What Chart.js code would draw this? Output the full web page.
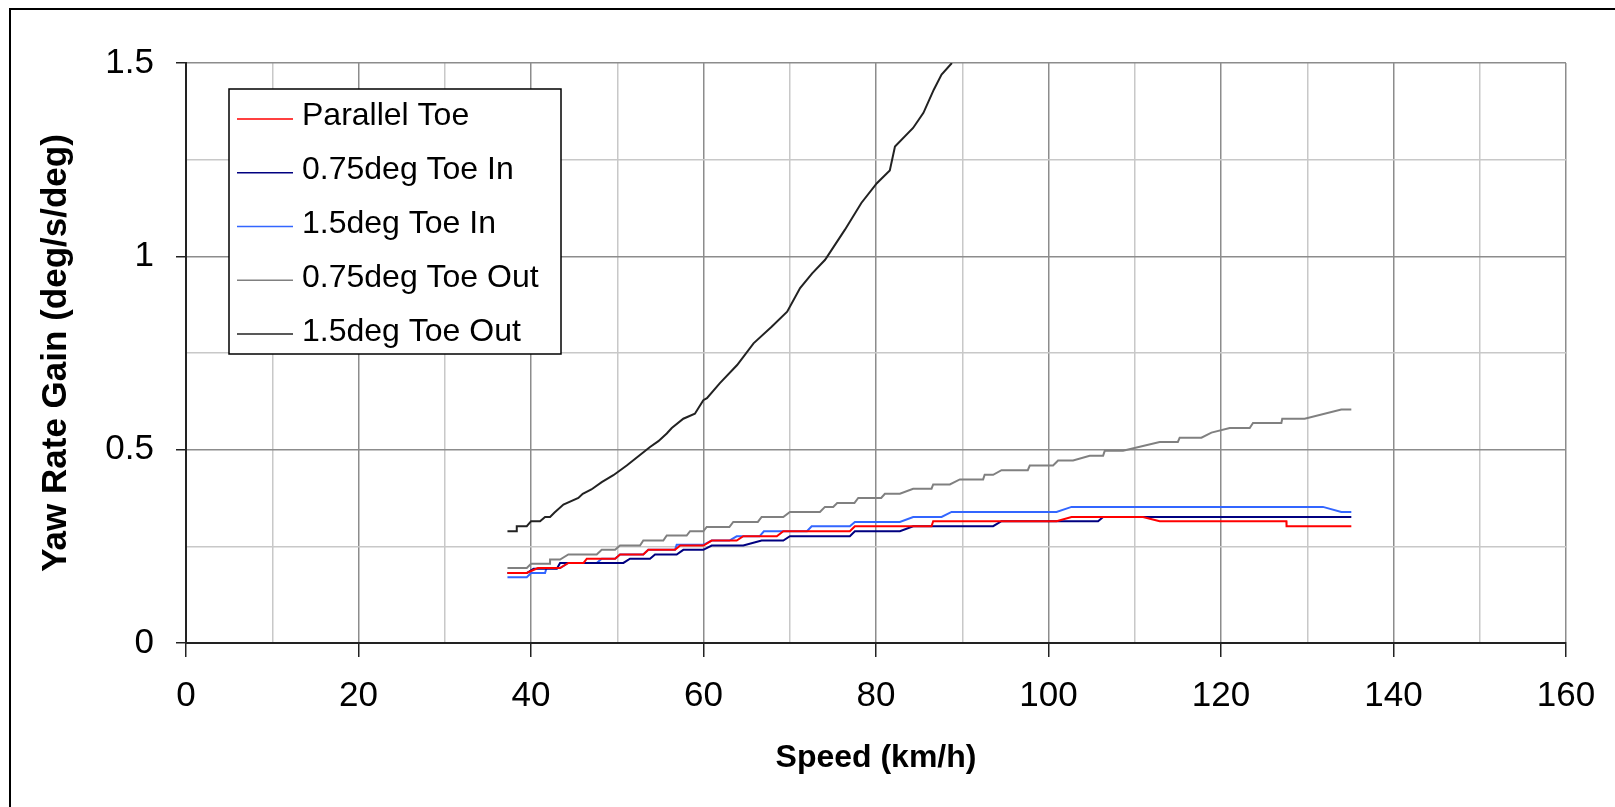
<!DOCTYPE html>
<html>
<head>
<title>Yaw Rate Gain vs Speed</title>
<script src="https://cdn.jsdelivr.net/npm/chart.js"></script>
<style>
  body { margin: 0; background: #fff; }
</style>
</head>
<body>
<canvas id="myChart" width="1615" height="807"></canvas>
<script>
// series data (speed km/h, yaw rate gain deg/s/deg)
const parallelToeX = [37.27,39.51,40.8,43.37,44.33,46.1,46.47,49.75,50.32,53.02,53.6,56.7,57.3,60.0,60.95,63.85,64.61,68.5,69.25,76.97,77.55,86.44,86.63,100.93,102.67,110.96,112.89,127.58,127.6,135.11];
const parallelToeY = [0.181,0.181,0.194,0.194,0.207,0.207,0.218,0.218,0.229,0.229,0.241,0.241,0.252,0.252,0.265,0.265,0.276,0.276,0.289,0.289,0.302,0.302,0.315,0.315,0.326,0.326,0.315,0.315,0.302,0.302];

const toeIn075X = [37.27,39.51,40.3,43.0,43.37,50.71,51.48,53.8,54.38,56.89,57.66,59.98,60.95,64.61,66.74,69.25,70.02,76.97,77.55,82.77,84.31,93.58,94.55,105.75,106.33,135.11];
const toeIn075Y = [0.181,0.181,0.192,0.192,0.207,0.207,0.218,0.218,0.229,0.229,0.241,0.241,0.252,0.252,0.265,0.265,0.276,0.276,0.289,0.289,0.302,0.302,0.315,0.315,0.326,0.326];

const toeIn15X = [37.27,39.51,40.01,41.63,41.8,43.37,44.33,47.62,48.2,49.75,50.32,53.02,53.6,56.7,56.89,59.98,60.95,63.0,63.85,66.5,67.0,72.0,72.54,76.97,77.55,82.77,84.31,87.6,88.76,100.93,102.67,131.82,133.95,135.11];
const toeIn15Y = [0.170,0.170,0.181,0.181,0.194,0.194,0.207,0.207,0.218,0.218,0.229,0.229,0.241,0.241,0.254,0.254,0.265,0.265,0.276,0.276,0.289,0.289,0.302,0.302,0.313,0.313,0.326,0.326,0.339,0.339,0.352,0.352,0.339,0.339];

const toeOut075X = [37.27,39.51,40.01,42.21,42.21,43.37,44.33,47.62,48.2,49.75,50.32,52.64,53.02,55.34,55.74,58.05,58.44,59.98,60.37,63.0,63.45,66.3,66.74,69.25,70.02,73.5,74.08,75.04,75.5,77.5,77.94,80.6,81.03,82.77,84.31,86.44,86.63,88.56,89.72,92.42,92.6,93.58,94.55,97.6,97.83,100.53,101.11,102.85,104.78,106.33,106.52,108.64,112.89,115.0,115.21,117.73,118.89,121.01,123.33,123.71,127.0,127.1,129.7,133.95,135.11];
const toeOut075Y = [0.194,0.194,0.205,0.205,0.216,0.216,0.229,0.229,0.241,0.241,0.252,0.252,0.265,0.265,0.278,0.278,0.289,0.289,0.300,0.300,0.313,0.313,0.326,0.326,0.339,0.339,0.352,0.352,0.362,0.362,0.375,0.375,0.386,0.386,0.399,0.399,0.410,0.410,0.423,0.423,0.435,0.435,0.447,0.447,0.459,0.459,0.472,0.472,0.484,0.484,0.497,0.497,0.520,0.520,0.531,0.531,0.544,0.556,0.556,0.569,0.569,0.580,0.580,0.604,0.604];

const toeOut15X = [37.27,38.35,38.35,39.51,40.01,41.05,41.63,42.21,42.7,43.76,45.49,46.0,47.0,48.2,49.55,51.1,52.45,53.8,54.77,55.74,56.32,57.66,59.0,59.98,60.4,61.9,63.9,65.8,67.9,69.7,71.2,72.6,74.1,76.4,78.3,80.1,81.6,82.2,84.3,85.5,86.7,87.6,88.8];
const toeOut15Y = [0.289,0.289,0.302,0.302,0.315,0.315,0.326,0.326,0.337,0.358,0.375,0.386,0.397,0.416,0.434,0.459,0.483,0.507,0.522,0.542,0.556,0.580,0.593,0.628,0.633,0.672,0.719,0.775,0.818,0.857,0.918,0.956,0.991,1.069,1.138,1.189,1.222,1.284,1.332,1.371,1.431,1.47,1.50];

const seriesLabels = ['Parallel Toe','0.75deg Toe In','1.5deg Toe In','0.75deg Toe Out','1.5deg Toe Out'];
const seriesColors = ['#FF0000','#000080','#3366FF','#808080','#222222'];

const fontFamily = 'Arial, "Liberation Sans", sans-serif';

function toPoints(xs, ys) {
    return xs.map((x, i) => ({x: x, y: ys[i]}));
}

//white background plus the outer chart frame (only left and top edges are in view)
const framePlugin = {
    id: 'frame',
    beforeDraw(chart) {
        const ctx = chart.ctx;
        ctx.save();
        ctx.fillStyle = '#fff';
        ctx.fillRect(0, 0, chart.width, chart.height);
        ctx.strokeStyle = '#000';
        ctx.lineWidth = 2;
        ctx.beginPath();
        ctx.moveTo(10, chart.height);
        ctx.lineTo(10, 9);
        ctx.lineTo(chart.width, 9);
        ctx.stroke();
        ctx.restore();
    }
};

//boxed legend sitting inside the plot area, like the excel one
const boxLegend = {
    id: 'boxLegend',
    afterDraw(chart) {
        const ctx = chart.ctx;
        const area = chart.chartArea;
        const left = area.left + 43, top = area.top + 26;
        ctx.save();
        ctx.fillStyle = '#fff';
        ctx.fillRect(left, top, 332, 265);
        ctx.strokeStyle = '#000';
        ctx.lineWidth = 1.5;
        ctx.strokeRect(left, top, 332, 265);
        ctx.font = '32px ' + fontFamily;
        ctx.textBaseline = 'alphabetic';
        chart.data.datasets.forEach((ds, i) => {
            const ly = top + 30 + i * 53.75;
            ctx.strokeStyle = ds.borderColor;
            ctx.lineWidth = 1.5;
            ctx.beginPath();
            ctx.moveTo(left + 8, ly);
            ctx.lineTo(left + 64, ly);
            ctx.stroke();
            ctx.fillStyle = '#000';
            ctx.fillText(ds.label, left + 73, top + 36 + i * 54);
        });
        ctx.restore();
    }
};

const seriesX = [parallelToeX, toeIn075X, toeIn15X, toeOut075X, toeOut15X];
const seriesY = [parallelToeY, toeIn075Y, toeIn15Y, toeOut075Y, toeOut15Y];

const datasets = seriesLabels.map((label, i) => ({
    label: label,
    data: toPoints(seriesX[i], seriesY[i]),
    borderColor: seriesColors[i],
    backgroundColor: seriesColors[i],
    borderWidth: 2,
    pointRadius: 0,
    tension: 0,
    fill: false,
    showLine: true
}));

const ctx = document.getElementById('myChart').getContext('2d');
const chart = new Chart(ctx, {
    type: 'scatter',
    data: {datasets: datasets},
    plugins: [framePlugin, boxLegend],
    options: {
        responsive: false,
        animation: false,
        devicePixelRatio: 1,
        layout: {padding: {left: 0, right: 49, top: 63, bottom: 0}},
        plugins: {legend: {display: false}, tooltip: {enabled: false}},
        scales: {
            x: {
                type: 'linear',
                min: 0,
                max: 160,
                afterFit: s => { s.height = 164; },
                ticks: {
                    stepSize: 10,
                    autoSkip: false,
                    maxRotation: 0,
                    padding: 18,
                    color: '#000',
                    font: {family: fontFamily, size: 35},
                    callback: v => (v % 20 === 0 ? String(v) : '')
                },
                grid: {
                    color: c => (c.tick && c.tick.value % 20 === 0 ? '#8c8c8c' : '#c8c8c8'),
                    tickColor: c => (c.tick && c.tick.value % 20 === 0 ? '#222' : 'rgba(0,0,0,0)'),
                    lineWidth: 1.5,
                    tickLength: 14
                },
                border: {color: '#222', width: 2},
                title: {
                    display: true,
                    text: 'Speed (km/h)',
                    color: '#000',
                    font: {family: fontFamily, size: 32, weight: 'bold'},
                    padding: {top: 0, bottom: 30}
                }
            },
            y: {
                min: 0,
                max: 1.5,
                afterFit: s => { s.width = 186; },
                ticks: {
                    stepSize: 0.25,
                    autoSkip: false,
                    padding: 22,
                    color: '#000',
                    font: {family: fontFamily, size: 35},
                    callback: v => (Math.round(v * 100) % 50 === 0 ? String(v) : '')
                },
                grid: {
                    color: c => (c.tick && Math.round(c.tick.value * 100) % 50 === 0 ? '#8c8c8c' : '#c8c8c8'),
                    tickColor: c => (c.tick && Math.round(c.tick.value * 100) % 50 === 0 ? '#222' : 'rgba(0,0,0,0)'),
                    lineWidth: 1.5,
                    tickLength: 10
                },
                border: {color: '#222', width: 2},
                title: {
                    display: true,
                    text: 'Yaw Rate Gain (deg/s/deg)',
                    color: '#000',
                    font: {family: fontFamily, size: 35, weight: 'bold'},
                    padding: {top: 35, bottom: 0}
                }
            }
        }
    }
});
</script>
</body>
</html>
